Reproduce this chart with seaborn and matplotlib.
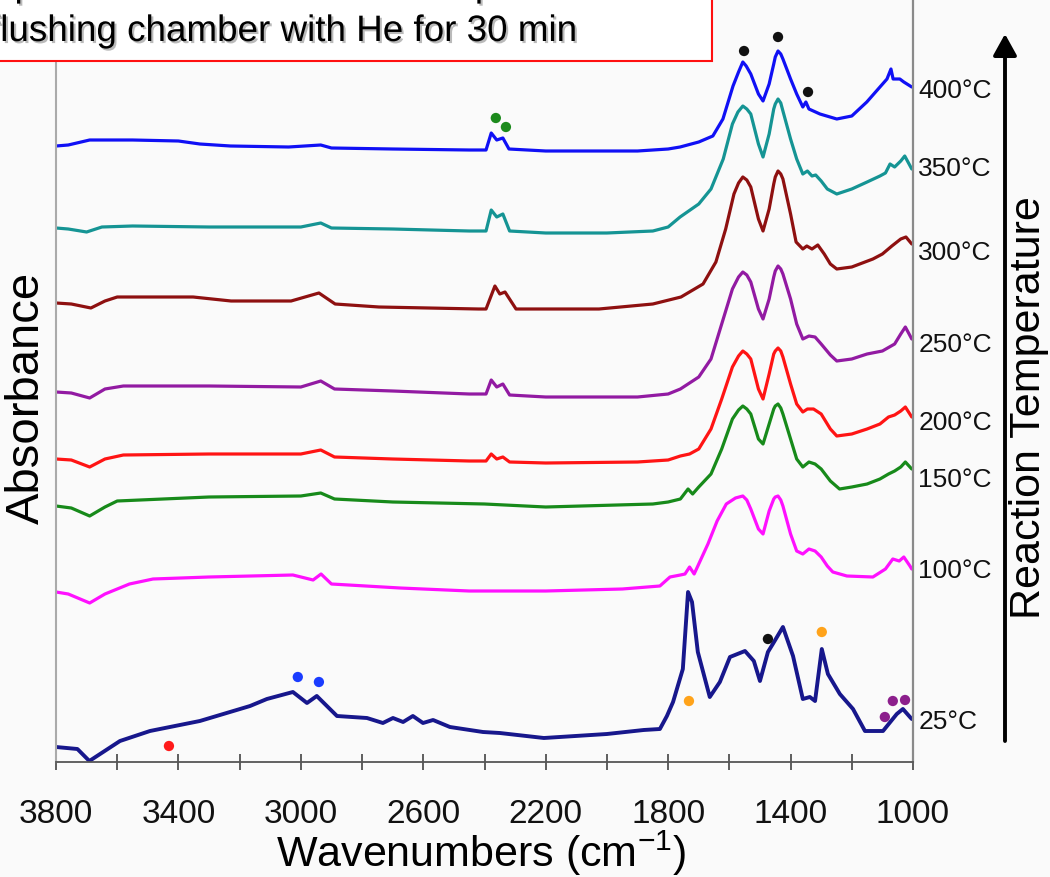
import matplotlib
matplotlib.use("Agg")
import matplotlib.pyplot as plt
import matplotlib.patheffects as pe
import matplotlib.patches as mpatches
import matplotlib.transforms as mtransforms
import seaborn as sns
import pandas as pd

# ---------------- data: in-situ IR spectra (stacked, arbitrary units) ----------------
temps = ["400°C", "350°C", "300°C", "250°C", "200°C", "150°C", "100°C", "25°C"]

wn_400 = [3800, 3760, 3690, 3550, 3400, 3330, 3230, 3040, 2935, 2900, 2700, 2450, 2395, 2378, 2360,
          2340, 2320, 2200, 1900, 1800, 1761, 1700, 1654, 1621, 1588, 1570, 1556, 1545, 1530, 1505,
          1490, 1470, 1455, 1450, 1441, 1432, 1425, 1400, 1380, 1360, 1350, 1340, 1304, 1249, 1200,
          1151, 1108, 1085, 1072, 1065, 1043, 1030, 1004]
abs_400 = [6.16, 6.17, 6.22, 6.22, 6.21, 6.18, 6.16, 6.15, 6.17, 6.14, 6.13, 6.12, 6.12, 6.29, 6.22,
           6.24, 6.13, 6.11, 6.11, 6.13, 6.15, 6.20, 6.26, 6.43, 6.76, 6.90, 7.00, 6.96, 6.88, 6.68,
           6.61, 6.78, 6.98, 7.05, 7.11, 7.08, 7.03, 6.83, 6.68, 6.55, 6.60, 6.53, 6.48, 6.43, 6.46,
           6.60, 6.75, 6.83, 6.93, 6.83, 6.83, 6.80, 6.75]

wn_350 = [3800, 3760, 3700, 3650, 3550, 3300, 3000, 2935, 2900, 2700, 2450, 2395, 2378, 2360, 2340,
          2318, 2200, 2000, 1850, 1800, 1761, 1700, 1660, 1620, 1590, 1572, 1556, 1543, 1530, 1505,
          1490, 1470, 1455, 1450, 1441, 1432, 1425, 1400, 1380, 1360, 1345, 1330, 1318, 1300, 1280,
          1249, 1200, 1150, 1108, 1090, 1075, 1060, 1040, 1027, 1004]
abs_350 = [5.34, 5.33, 5.30, 5.35, 5.36, 5.35, 5.35, 5.39, 5.34, 5.33, 5.31, 5.31, 5.52, 5.45, 5.48,
           5.31, 5.29, 5.29, 5.31, 5.35, 5.45, 5.58, 5.73, 6.03, 6.38, 6.50, 6.56, 6.53, 6.48, 6.18,
           6.05, 6.28, 6.53, 6.58, 6.63, 6.59, 6.51, 6.23, 6.03, 5.88, 5.91, 5.86, 5.87, 5.81, 5.73,
           5.68, 5.73, 5.80, 5.86, 5.89, 5.98, 5.95, 6.01, 6.06, 5.93]

wn_300 = [3800, 3750, 3686, 3640, 3600, 3352, 3228, 3032, 2941, 2888, 2745, 2420, 2395, 2366, 2350,
          2333, 2297, 2026, 1850, 1758, 1686, 1644, 1612, 1585, 1570, 1556, 1543, 1530, 1505, 1490,
          1470, 1455, 1450, 1441, 1432, 1425, 1400, 1382, 1360, 1347, 1330, 1311, 1290, 1270, 1249,
          1200, 1131, 1100, 1069, 1040, 1023, 1004]
abs_300 = [4.59, 4.58, 4.54, 4.61, 4.65, 4.65, 4.61, 4.61, 4.69, 4.58, 4.55, 4.53, 4.53, 4.76, 4.68,
           4.70, 4.53, 4.53, 4.58, 4.65, 4.78, 5.00, 5.33, 5.68, 5.79, 5.85, 5.82, 5.75, 5.43, 5.31,
           5.53, 5.78, 5.85, 5.91, 5.88, 5.83, 5.48, 5.20, 5.13, 5.16, 5.13, 5.17, 5.08, 4.98, 4.93,
           4.95, 5.03, 5.08, 5.16, 5.23, 5.25, 5.18]

wn_250 = [3800, 3750, 3690, 3640, 3580, 3300, 3000, 2935, 2890, 2700, 2450, 2395, 2378, 2360, 2340,
          2318, 2200, 1900, 1800, 1760, 1700, 1660, 1625, 1590, 1570, 1556, 1543, 1530, 1505, 1490,
          1470, 1455, 1450, 1441, 1432, 1425, 1400, 1380, 1360, 1340, 1320, 1300, 1270, 1249, 1200,
          1150, 1100, 1060, 1040, 1025, 1004]
abs_250 = [3.70, 3.69, 3.64, 3.73, 3.76, 3.76, 3.75, 3.81, 3.73, 3.71, 3.68, 3.68, 3.82, 3.75, 3.78,
           3.67, 3.65, 3.65, 3.68, 3.73, 3.85, 4.03, 4.38, 4.73, 4.85, 4.90, 4.87, 4.80, 4.53, 4.43,
           4.63, 4.85, 4.91, 4.96, 4.93, 4.88, 4.63, 4.38, 4.23, 4.26, 4.25, 4.18, 4.07, 4.01, 4.03,
           4.08, 4.11, 4.18, 4.28, 4.35, 4.23]

wn_200 = [3800, 3750, 3690, 3640, 3580, 3300, 3000, 2935, 2890, 2700, 2450, 2395, 2378, 2360, 2340,
          2318, 2200, 1900, 1800, 1760, 1730, 1700, 1660, 1625, 1590, 1570, 1556, 1543, 1530, 1505,
          1490, 1470, 1455, 1450, 1441, 1432, 1425, 1400, 1380, 1360, 1345, 1325, 1300, 1270, 1249,
          1200, 1150, 1108, 1080, 1060, 1040, 1025, 1004]
abs_200 = [3.03, 3.02, 2.95, 3.03, 3.07, 3.08, 3.08, 3.12, 3.05, 3.03, 3.01, 3.01, 3.08, 3.03, 3.05,
           3.00, 2.99, 3.00, 3.02, 3.06, 3.08, 3.13, 3.33, 3.63, 3.95, 4.06, 4.11, 4.08, 4.03, 3.73,
           3.63, 3.88, 4.08, 4.11, 4.14, 4.11, 4.05, 3.78, 3.58, 3.50, 3.53, 3.53, 3.48, 3.33, 3.26,
           3.28, 3.33, 3.38, 3.45, 3.47, 3.51, 3.55, 3.45]

wn_150 = [3800, 3750, 3690, 3640, 3600, 3300, 3000, 2935, 2890, 2700, 2400, 2200, 1850, 1800, 1760,
          1735, 1720, 1700, 1660, 1625, 1590, 1570, 1556, 1543, 1530, 1505, 1490, 1470, 1455, 1450,
          1441, 1432, 1425, 1400, 1380, 1360, 1340, 1320, 1300, 1270, 1240, 1200, 1150, 1108, 1080,
          1060, 1040, 1025, 1004]
abs_150 = [2.56, 2.54, 2.46, 2.55, 2.61, 2.65, 2.66, 2.69, 2.63, 2.60, 2.58, 2.55, 2.58, 2.60, 2.63,
           2.73, 2.68, 2.75, 2.88, 3.13, 3.43, 3.52, 3.56, 3.53, 3.48, 3.23, 3.18, 3.38, 3.53, 3.56,
           3.58, 3.54, 3.48, 3.23, 3.03, 2.95, 3.00, 2.98, 2.93, 2.81, 2.73, 2.75, 2.78, 2.83, 2.88,
           2.91, 2.95, 3.00, 2.93]

wn_100 = [3800, 3760, 3690, 3640, 3560, 3483, 3300, 3026, 2960, 2934, 2900, 2676, 2450, 2200, 1950,
          1827, 1794, 1760, 1745, 1730, 1715, 1700, 1670, 1640, 1610, 1580, 1556, 1543, 1530, 1505,
          1490, 1470, 1455, 1450, 1441, 1432, 1425, 1400, 1380, 1360, 1340, 1320, 1300, 1280, 1262,
          1216, 1131, 1090, 1066, 1045, 1030, 1010, 1004]
abs_100 = [1.70, 1.68, 1.59, 1.68, 1.78, 1.83, 1.85, 1.87, 1.82, 1.88, 1.78, 1.74, 1.71, 1.71, 1.73,
           1.76, 1.85, 1.87, 1.88, 1.95, 1.88, 1.98, 2.18, 2.41, 2.58, 2.64, 2.66, 2.62, 2.53, 2.33,
           2.28, 2.51, 2.63, 2.65, 2.66, 2.62, 2.56, 2.28, 2.11, 2.08, 2.13, 2.11, 2.05, 1.96, 1.90,
           1.86, 1.85, 1.93, 2.03, 2.01, 2.05, 1.96, 1.93]

wn_25 = [3800, 3730, 3691, 3591, 3493, 3330, 3166, 3111, 3026, 2980, 2948, 2882, 2784, 2732, 2699,
         2666, 2634, 2601, 2568, 2513, 2405, 2350, 2206, 2000, 1880, 1827, 1804, 1784, 1752, 1735,
         1722, 1703, 1664, 1631, 1598, 1549, 1520, 1500, 1474, 1458, 1425, 1392, 1360, 1337, 1320,
         1298, 1278, 1239, 1196, 1157, 1098, 1053, 1033, 1010, 1004]
abs_25 = [0.15, 0.13, 0.01, 0.21, 0.31, 0.41, 0.56, 0.63, 0.70, 0.59, 0.66, 0.46, 0.44, 0.39, 0.44,
          0.40, 0.46, 0.39, 0.42, 0.35, 0.30, 0.29, 0.24, 0.28, 0.32, 0.33, 0.46, 0.60, 0.93, 1.70,
          1.60, 1.10, 0.65, 0.80, 1.05, 1.11, 1.01, 0.81, 1.10, 1.18, 1.35, 1.06, 0.63, 0.65, 0.61,
          1.13, 0.88, 0.68, 0.53, 0.31, 0.31, 0.48, 0.53, 0.45, 0.43]

# band markers (wavenumber, height, group)
mark_wn = [1552, 1441, 1343, 2363, 2330, 3010, 2941, 3431, 1474, 1298, 1732, 1092, 1066, 1026]
mark_y = [7.11, 7.25, 6.70, 6.44, 6.35, 0.85, 0.80, 0.16, 1.23, 1.30, 0.61, 0.45, 0.61, 0.62]
mark_group = ["carbonate", "carbonate", "carbonate", "co2", "co2", "ch", "ch", "oh",
              "carbonate", "formate", "formate", "alkoxy", "alkoxy", "alkoxy"]

# ---------------- styling ----------------
sns.set_theme(style="white")
plt.rcParams["font.family"] = ["Liberation Sans", "DejaVu Sans"]
plt.rcParams["mathtext.fontset"] = "custom"
plt.rcParams["mathtext.rm"] = "Liberation Sans"
plt.rcParams["mathtext.it"] = "Liberation Sans"
plt.rcParams["mathtext.default"] = "regular"

line_colors = ["#1010f5", "#159494", "#8e1010", "#921aa2", "#ff1414", "#178a1a", "#ff10ff", "#17178c"]
mark_colors = {"carbonate": "#111111", "co2": "#1c8a1c", "ch": "#1a3cff", "oh": "#ff1a1a",
               "formate": "#ffa31a", "alkoxy": "#8c1f8c"}
# baseline heights of the temperature tags beside the right axis
label_y = [6.655, 5.875, 5.035, 4.115, 3.325, 2.755, 1.845, 0.335]

W, H = 1050, 878
fig = plt.figure(figsize=(W / 100, H / 100), dpi=100, facecolor="#fafafa")
ax = fig.add_axes([56 / W, (H - 763) / H, (913 - 56) / W, 763 / H])
ax.set_facecolor("#fafafa")

spectra = [(wn_400, abs_400), (wn_350, abs_350), (wn_300, abs_300), (wn_250, abs_250),
           (wn_200, abs_200), (wn_150, abs_150), (wn_100, abs_100), (wn_25, abs_25)]

label_tf = mtransforms.blended_transform_factory(ax.transAxes, ax.transData)
for (wn, ab), name, col, ly in zip(spectra, temps, line_colors, label_y):
    df = pd.DataFrame({"wn": wn, "abs": ab})
    lw = 2.8 if name == "25°C" else 2.3
    sns.lineplot(data=df, x="wn", y="abs", color=col, lw=lw, sort=False,
                 estimator=None, ax=ax, legend=False)
    ax.text(1.006, ly, name, transform=label_tf, ha="left", va="baseline",
            fontsize=19, color="#111111", clip_on=False)

marks = pd.DataFrame({"wn": mark_wn, "y": mark_y, "group": mark_group})
sns.scatterplot(data=marks, x="wn", y="y", hue="group", palette=mark_colors, s=55,
                edgecolor="none", ax=ax, legend=False, zorder=5)

ax.set_xlim(3800, 1000)
ax.set_ylim(0, 7.63)
ax.set_yticks([])
ticks = list(range(3800, 999, -200))
ax.set_xticks(ticks)
ax.set_xticklabels([str(t) if (3800 - t) % 400 == 0 else "" for t in ticks])
ax.tick_params(axis="x", direction="inout", length=11.5, width=1.1, color="#333333",
               labelsize=24, pad=20, bottom=True, labelcolor="#111111")
ax.set_xlabel("")
ax.set_ylabel("")

ax.spines["top"].set_visible(False)
ax.spines["left"].set_color("#aaaaaa")
ax.spines["left"].set_linewidth(1.5)
ax.spines["right"].set_color("#8a8a8a")
ax.spines["right"].set_linewidth(1.6)
ax.spines["bottom"].set_color("#555555")
ax.spines["bottom"].set_linewidth(1.3)

# axis titles
fig.text(481 / W, (H - 867) / H, "Wavenumbers (cm$^{-1}$)", ha="center", va="baseline",
         fontsize=31, color="black")
fig.text(27 / W, (H - 398) / H, "Absorbance", rotation=90, ha="center", va="center",
         fontsize=34, color="black")
fig.text(1029 / W, (H - 408) / H, "Reaction Temperature", rotation=90, ha="center",
         va="center", fontsize=31, color="black")

# temperature direction arrow
ax.annotate("", xy=(1005, H - 35), xytext=(1005, H - 742), xycoords="figure pixels",
            textcoords="figure pixels",
            arrowprops=dict(arrowstyle="-|>,head_length=0.65,head_width=0.36", color="black",
                            lw=2.8, mutation_scale=20, shrinkA=0, shrinkB=0))

# note box in the upper left corner
box = mpatches.Rectangle((-20 / W, (H - 62) / H), 732 / W, 0.2, transform=fig.transFigure,
                         facecolor="white", edgecolor="#ff1010", lw=1.5, zorder=10)
fig.add_artist(box)
shadow = [pe.withSimplePatchShadow(offset=(1.5, -1.5), shadow_rgbFace="#777777", alpha=0.5)]
fig.text(-10 / W, (H + 3) / H, "Spectra recorded at each temperature after", ha="left",
         va="baseline", fontsize=26.5, color="black", zorder=11, path_effects=shadow)
fig.text(-10 / W, (H - 42) / H, "flushing chamber with He for 30 min", ha="left",
         va="baseline", fontsize=26.5, color="black", zorder=11, path_effects=shadow)

fig.savefig("out.png", dpi=100, facecolor=fig.get_facecolor())
